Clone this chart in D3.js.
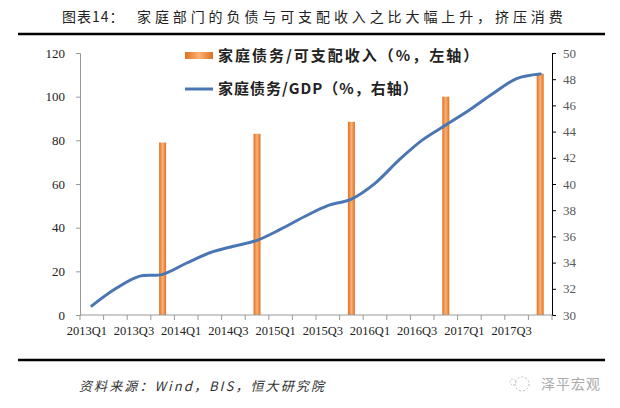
<!DOCTYPE html>
<html><head><meta charset="utf-8">
<script src="https://cdn.jsdelivr.net/npm/d3@7"></script>
<style>
html,body{margin:0;padding:0;background:#fff;}
svg{display:block;}
</style></head>
<body>
<svg id="chart" width="620" height="408"></svg>
<script>
const categories = ["2013Q1","2013Q2","2013Q3","2013Q4","2014Q1","2014Q2","2014Q3","2014Q4",
  "2015Q1","2015Q2","2015Q3","2015Q4","2016Q1","2016Q2","2016Q3","2016Q4",
  "2017Q1","2017Q2","2017Q3","2017Q4"];
const debtToIncome = [null,null,null,79,null,null,null,83,null,null,null,88.5,null,null,null,100,null,null,null,110.5];
const debtToGDP = [30.7,32.0,32.95,33.1,33.95,34.75,35.25,35.7,36.55,37.5,38.35,38.85,40.05,41.8,43.35,44.5,45.65,46.9,48.05,48.4];
const leftTicks = [0,20,40,60,80,100,120];
const rightTicks = [30,32,34,36,38,40,42,44,46,48,50];
const xLabelCats = ["2013Q1","2013Q3","2014Q1","2014Q3","2015Q1","2015Q3","2016Q1","2016Q3","2017Q1","2017Q3"];

const title = "图表14：";
const titleMain = "家庭部门的负债与可支配收入之比大幅上升，挤压消费";
const legendBar = "家庭债务/可支配收入（%，左轴）";
const legendLine = "家庭债务/GDP（%，右轴）";
const source = "资料来源：Wind，BIS，恒大研究院";
const brand = "泽平宏观";

const svg = d3.select("#chart");
const L = 80, R = 552, T = 53, B = 315;
const serif = "'Liberation Serif','Times New Roman',serif";
const cjk = "'Noto Sans CJK SC','Noto Sans',sans-serif";

const defs = svg.append("defs");
const grad = defs.append("linearGradient").attr("id","barGrad").attr("x1","0").attr("x2","1").attr("y1","0").attr("y2","0");
grad.append("stop").attr("offset","0%").attr("stop-color","#e06f22");
grad.append("stop").attr("offset","50%").attr("stop-color","#fbb274");
grad.append("stop").attr("offset","100%").attr("stop-color","#e06f22");

const x = d3.scaleBand().domain(categories).range([L, R]).padding(0);
const yL = d3.scaleLinear().domain([0,120]).range([B, T]);
const yR = d3.scaleLinear().domain([30,50]).range([B, T]);

// title
svg.append("text").attr("x",62).attr("y",22).attr("font-family",cjk).attr("font-size",14).attr("fill","#222")
  .attr("letter-spacing","1px").text(title);
svg.append("text").attr("x",137).attr("y",22).attr("font-family",cjk).attr("font-size",14).attr("fill","#222")
  .attr("letter-spacing","3.9px").text(titleMain);
svg.append("line").attr("x1",18).attr("x2",605).attr("y1",34).attr("y2",34).attr("stroke","#000").attr("stroke-width",2.5);
svg.append("line").attr("x1",18).attr("x2",605).attr("y1",360).attr("y2",360).attr("stroke","#000").attr("stroke-width",2.5);

// bars
const bw = 7;
svg.append("g").selectAll("rect").data(categories.map((c,i)=>({c, v: debtToIncome[i]})).filter(d=>d.v!=null))
  .join("rect")
  .attr("x", d => x(d.c) + x.bandwidth()/2 - bw/2)
  .attr("width", bw)
  .attr("y", d => yL(d.v))
  .attr("height", d => B - yL(d.v))
  .attr("fill","url(#barGrad)");

// line
const line = d3.line().x((d,i)=>x(categories[i]) + x.bandwidth()/2).y(d=>yR(d)).curve(d3.curveCatmullRom.alpha(0.5));
svg.append("path").datum(debtToGDP).attr("d", line).attr("fill","none").attr("stroke","#4a76b4").attr("stroke-width",3).attr("stroke-linecap","round");

// left axis
const gL = svg.append("g").attr("transform",`translate(${L},0)`)
  .call(d3.axisLeft(yL).tickValues(leftTicks).tickSize(4).tickPadding(11));
gL.select(".domain").attr("stroke","#999");
gL.selectAll(".tick line").attr("stroke","#999");
gL.selectAll("text").attr("font-family",serif).attr("font-size",13).attr("fill","#222");

// right axis
const gR = svg.append("g").attr("transform",`translate(${R},0)`)
  .call(d3.axisRight(yR).tickValues(rightTicks).tickSize(4).tickPadding(7));
gR.select(".domain").attr("stroke","#000");
gR.selectAll(".tick line").attr("stroke","#000");
gR.selectAll("text").attr("font-family",serif).attr("font-size",13).attr("fill","#595959");

// bottom axis
const gB = svg.append("g").attr("transform",`translate(0,${B})`);
gB.append("line").attr("x1",L).attr("x2",R).attr("stroke","#999");
const boundaries = categories.map(c => x(c)).concat([R]);
gB.selectAll("line.tk").data(boundaries).join("line").attr("class","tk")
  .attr("x1",d=>d).attr("x2",d=>d).attr("y1",0).attr("y2",5).attr("stroke","#999");
gB.selectAll("text").data(xLabelCats).join("text")
  .attr("x", d => x(d) + x.bandwidth()/2 - 5)
  .attr("y", 20)
  .attr("text-anchor","middle")
  .attr("font-family",serif).attr("font-size",12.5).attr("fill","#222")
  .text(d=>d);

// legend
svg.append("rect").attr("x",185).attr("y",52).attr("width",28).attr("height",7).attr("fill","url(#barGrad)");
svg.append("text").attr("x",218).attr("y",61).attr("font-family",cjk).attr("font-weight","bold").attr("font-size",15)
  .attr("letter-spacing","2px").attr("fill","#222").text(legendBar);
svg.append("line").attr("x1",185).attr("x2",213).attr("y1",89).attr("y2",89).attr("stroke","#4a76b4").attr("stroke-width",3);
svg.append("text").attr("x",218).attr("y",94).attr("font-family",cjk).attr("font-weight","bold").attr("font-size",15)
  .attr("letter-spacing","1px").attr("fill","#222").text(legendLine);

// footer
svg.append("text").attr("x",79).attr("y",391).attr("font-family",cjk).attr("font-style","italic").attr("font-size",13)
  .attr("fill","#333").attr("letter-spacing","2.1px").text(source);
const ic = svg.append("g").attr("transform","translate(522,384)").attr("fill","none").attr("stroke","#bbb").attr("stroke-width",1);
ic.append("circle").attr("r",7).attr("stroke-dasharray","2,2");
ic.append("circle").attr("cx",-9).attr("cy",-2).attr("r",3).attr("stroke-dasharray","1.5,1.5");
svg.append("text").attr("x",541).attr("y",389).attr("font-family",cjk).attr("font-size",14)
  .attr("fill","#aaa").attr("letter-spacing","1px").text(brand);
</script>
</body></html>
